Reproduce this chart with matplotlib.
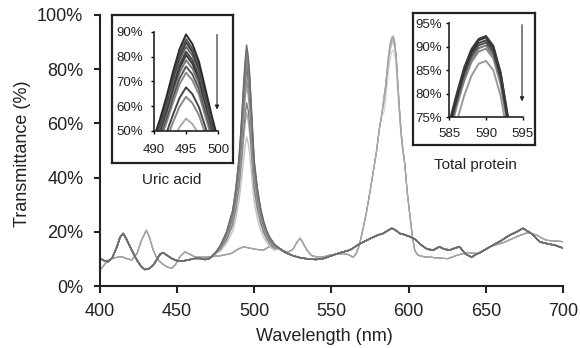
import numpy as np
import matplotlib
matplotlib.use("Agg")
import matplotlib.pyplot as plt
from matplotlib.colors import to_rgb

plt.rcParams['font.family'] = ['Liberation Sans', 'DejaVu Sans']

# ---------------- uric acid spectra (12 concentrations) ----------------
uric_left_wl = [400, 403, 405.4, 408, 411, 413, 415, 417, 420.5, 424, 427, 429, 432, 434.5,
                437, 439, 441, 443, 446.4, 450, 453, 457, 461.5, 465, 468, 471, 474.5]
uric_left_t = [10.2, 9.3, 9.0, 10.5, 14.5, 18.0, 19.4, 17.5, 13.3, 9.5, 7.0, 6.1, 6.5, 7.7,
               10.0, 11.8, 12.3, 11.5, 10.2, 9.3, 9.2, 9.6, 10.2, 10.2, 9.8, 10.2, 12.0]

uric_peak_wl = [478, 482, 486, 488, 490, 491, 492, 493, 494, 495, 496, 497, 498, 499, 500,
                502, 504, 506, 508, 510, 513]
uric_peaks = [
    [15.0, 20.0, 28.0, 36.0, 47.0, 55.0, 64.0, 74.0, 83.0, 88.9, 85.0, 78.0, 67.0, 56.0, 46.0, 36.0, 29.0, 24.0, 20.5, 18.0, 15.5],
    [14.9, 19.8, 27.6, 35.4, 46.1, 53.9, 62.7, 72.5, 81.2, 87.0, 83.2, 76.4, 65.6, 54.9, 45.1, 35.4, 28.5, 23.7, 20.2, 17.8, 15.4],
    [14.8, 19.6, 27.3, 34.9, 45.5, 53.2, 61.8, 71.4, 80.0, 85.7, 81.9, 75.2, 64.7, 54.1, 44.5, 34.9, 28.2, 23.4, 20.1, 17.7, 15.3],
    [14.7, 19.4, 26.9, 34.4, 44.7, 52.2, 60.7, 70.0, 78.5, 84.0, 80.4, 73.8, 63.5, 53.1, 43.8, 34.4, 27.8, 23.1, 19.8, 17.5, 15.2],
    [14.6, 19.1, 26.4, 33.7, 43.8, 51.1, 59.3, 68.4, 76.6, 82.0, 78.5, 72.1, 62.0, 52.0, 42.9, 33.7, 27.3, 22.8, 19.6, 17.3, 15.0],
    [14.5, 19.0, 26.1, 33.3, 43.1, 50.3, 58.3, 67.3, 75.3, 80.6, 77.1, 70.9, 61.0, 51.2, 42.2, 33.3, 27.0, 22.5, 19.4, 17.2, 14.9],
    [14.3, 18.7, 25.6, 32.6, 42.2, 49.1, 56.9, 65.6, 73.4, 78.6, 75.2, 69.1, 59.5, 50.0, 41.3, 32.6, 26.5, 22.2, 19.1, 17.0, 14.8],
    [14.2, 18.4, 25.1, 31.8, 41.0, 47.7, 55.2, 63.6, 71.1, 76.0, 72.8, 66.9, 57.7, 48.5, 40.1, 31.8, 25.9, 21.7, 18.8, 16.7, 14.6],
    [14.0, 18.1, 24.5, 30.9, 39.8, 46.2, 53.5, 61.5, 68.8, 73.5, 70.4, 64.7, 55.9, 47.0, 39.0, 30.9, 25.3, 21.3, 18.5, 16.4, 14.4],
    [13.7, 17.3, 23.1, 29.0, 37.0, 42.9, 49.4, 56.7, 63.3, 67.6, 64.8, 59.6, 51.6, 43.6, 36.3, 29.0, 23.9, 20.2, 17.7, 15.8, 14.0],
    [13.4, 16.8, 22.3, 27.7, 35.2, 40.7, 46.8, 53.6, 59.8, 63.8, 61.2, 56.4, 48.9, 41.4, 34.6, 27.7, 23.0, 19.5, 17.2, 15.5, 13.8],
    [12.9, 15.7, 20.3, 24.8, 31.1, 35.7, 40.8, 46.5, 51.6, 55.0, 52.8, 48.8, 42.5, 36.2, 30.5, 24.8, 20.8, 18.0, 16.0, 14.6, 13.1],
]
uric_colors = ['#2b2b2b', '#555555', '#3a3a3a', '#666666', '#444444', '#333333',
               '#777777', '#555555', '#8a8a8a', '#444444', '#888888', '#aaaaaa']

uric_right_wl = [516, 520, 525, 530, 535, 540, 545, 549, 555, 562, 568, 575, 580, 583.4, 586,
                 589, 591, 594.3, 597, 600.8, 604.3, 608, 612, 616, 620, 623, 626.7, 630, 633,
                 636.5, 640.8, 643, 646, 650, 654.7, 660, 665.5, 670, 674, 679.5, 682, 685,
                 690, 694.7, 700]
uric_right_t = [14.0, 12.4, 11.2, 10.4, 10.0, 9.8, 10.2, 11.0, 12.2, 13.3, 15.5, 17.5, 18.8,
                19.4, 20.3, 21.3, 20.8, 19.4, 19.0, 18.2, 17.2, 15.2, 13.6, 13.3, 14.5, 13.6,
                13.3, 14.0, 14.5, 12.0, 10.6, 11.5, 12.3, 13.6, 15.1, 16.8, 18.8, 20.0, 21.3,
                19.4, 18.0, 16.3, 15.6, 15.1, 14.0]

# ---------------- total protein spectra (7 concentrations) ----------------
prot_left_wl = [400, 403, 405.4, 410, 414, 417, 420.5, 424, 427, 430, 432, 434.5, 437, 440,
                443, 446.4, 449, 452, 455, 458, 461.5, 466, 472, 478, 485, 489, 493, 497,
                501.5, 506, 510, 514, 518, 522, 525, 528, 529.5, 531, 534, 537, 540, 545,
                549, 554, 558, 561, 564, 566, 568, 570, 572.5, 575, 577, 579, 581, 582.5]
prot_left_t = [5.9, 8.0, 9.6, 10.5, 10.8, 10.2, 9.6, 12.0, 17.0, 20.6, 18.0, 13.3, 10.0, 8.4,
               7.2, 6.5, 8.0, 11.0, 12.6, 11.8, 10.8, 10.6, 10.8, 11.2, 12.0, 13.5, 14.5, 14.0,
               13.5, 13.3, 14.6, 14.2, 13.0, 12.6, 13.5, 16.5, 17.6, 16.5, 13.3, 11.3, 10.8,
               10.8, 11.4, 11.8, 12.0, 11.6, 10.6, 12.0, 15.0, 20.0, 26.8, 35.0, 42.0, 49.0,
               58.0, 63.0]

prot_peak_wl = [584, 585, 586, 587, 588, 589, 590, 591, 592, 593, 594, 595, 596]
prot_peaks = [
    [70.0, 74.0, 80.0, 85.5, 89.5, 91.7, 92.3, 90.2, 84.5, 75.0, 66.0, 58.0, 52.0],
    [69.5, 73.5, 79.5, 85.0, 89.0, 91.4, 92.0, 89.9, 84.2, 74.7, 65.8, 57.8, 51.8],
    [69.0, 73.0, 79.0, 84.5, 88.5, 90.8, 91.4, 89.3, 83.6, 74.2, 65.4, 57.5, 51.6],
    [68.5, 72.5, 78.5, 84.0, 88.0, 90.3, 90.9, 88.8, 83.1, 73.8, 65.0, 57.2, 51.4],
    [68.0, 72.0, 78.0, 83.3, 87.4, 89.7, 90.3, 88.2, 82.6, 73.3, 64.6, 57.0, 51.2],
    [67.5, 71.3, 77.3, 82.6, 86.7, 89.0, 89.6, 87.5, 81.9, 72.7, 64.1, 56.6, 51.0],
    [64.0, 68.0, 74.0, 79.5, 83.8, 86.4, 87.0, 85.0, 79.5, 70.5, 62.2, 55.2, 50.0],
]
prot_colors = ['#3a3a3a', '#2b2b2b', '#444444', '#555555', '#777777', '#888888', '#999999']

prot_right_wl = [597.5, 599, 601, 602.5, 604, 606, 610, 614.7, 620, 625.5, 631.5, 638, 642,
                 645.6, 649, 652.6, 657, 661.3, 666, 670, 676.4, 679, 682.9, 686, 689.3,
                 694.7, 700]
prot_right_t = [45.0, 35.0, 25.0, 18.0, 13.0, 11.4, 10.8, 10.6, 10.3, 10.1, 11.4, 12.4, 12.1,
                12.0, 13.2, 14.5, 15.3, 16.0, 17.2, 18.2, 19.6, 19.5, 18.8, 17.8, 16.9,
                16.6, 16.4]

x_ticks = [400, 450, 500, 550, 600, 650, 700]
y_ticks = [0, 20, 40, 60, 80, 100]


def pct(vals):
    return ['%d%%' % v for v in vals]


def join(lw, lt, pw, pt, rw, rt):
    return np.array(lw + pw + rw), np.array(lt + pt + rt)


def lighter(c, k):
    return tuple(np.array(to_rgb(c)) * (1 - k) + k)


uric = [join(uric_left_wl, uric_left_t, uric_peak_wl, p, uric_right_wl, uric_right_t)
        for p in uric_peaks]
prot = [join(prot_left_wl, prot_left_t, prot_peak_wl, p, prot_right_wl, prot_right_t)
        for p in prot_peaks]

fig = plt.figure(figsize=(5.8, 3.48), dpi=100)
ax = fig.add_axes([0.1724, 0.178, 0.7983, 0.779])

for (x, y), c in zip(prot[::-1], prot_colors[::-1]):
    ax.plot(x, y, color=lighter(c, 0.55), lw=0.8)
for (x, y), c in zip(uric[::-1], uric_colors[::-1]):
    ax.plot(x, y, color=lighter(c, 0.3), lw=1.0)

ax.set_xlim(400, 700)
ax.set_ylim(0, 100)
ax.set_xticks(x_ticks)
ax.set_yticks(y_ticks)
ax.set_yticklabels(pct(y_ticks))
for s in ['top', 'right']:
    ax.spines[s].set_visible(False)
for s in ['left', 'bottom']:
    ax.spines[s].set_linewidth(1.5)
    ax.spines[s].set_color('#222222')
ax.tick_params(axis='x', direction='out', length=5, width=1.5, color='#222222',
               labelsize=13, pad=7, labelcolor='#222222')
ax.tick_params(axis='y', direction='out', length=4, width=1.5, color='#222222',
               labelsize=13, pad=8, labelcolor='#222222')
fig.text(0.56, 0.032, 'Wavelength (nm)', ha='center', va='center', fontsize=13, color='#222222')
fig.text(0.038, 0.5575, 'Transmittance (%)', ha='center', va='center', rotation=90,
         fontsize=13, color='#222222')


def frame(rect):
    b = fig.add_axes(rect)
    b.set_xticks([])
    b.set_yticks([])
    for s in b.spines.values():
        s.set_linewidth(1.6)
        s.set_color('#222222')
    return b


def inset(rect, curves, colors, xl, yl, xt, yt, xpad, ypad):
    a = fig.add_axes(rect)
    for (x, y), c in zip(curves[::-1], colors[::-1]):
        a.plot(x, y, color=c, lw=1.4)
    a.set_xlim(*xl)
    a.set_ylim(*yl)
    a.set_xticks(xt)
    a.set_yticks(yt)
    a.set_yticklabels(pct(yt))
    a.patch.set_alpha(0)
    for s in ['top', 'right']:
        a.spines[s].set_visible(False)
    for s in ['left', 'bottom']:
        a.spines[s].set_linewidth(1.2)
        a.spines[s].set_color('#222222')
    a.tick_params(direction='out', length=2.5, width=1, labelsize=9.5,
                  labelcolor='#222222')
    a.tick_params(axis='x', pad=xpad)
    a.tick_params(axis='y', pad=ypad)
    return a


frame([0.1931, 0.5316, 0.2086, 0.4253])
a1 = inset([0.265, 0.6236, 0.1114, 0.2853], uric, uric_colors, (490, 500), (50, 90),
           [490, 495, 500], [50, 60, 70, 80, 90], 7, 5)
a1.annotate('', xy=(499.8, 57.5), xytext=(499.8, 90), annotation_clip=False,
            arrowprops=dict(arrowstyle='-|>', color='#222222', lw=0.8, mutation_scale=6))

frame([0.7121, 0.5833, 0.2103, 0.3802])
a2 = inset([0.7747, 0.6629, 0.1266, 0.2701], prot, prot_colors, (585, 595), (75, 95),
           [585, 590, 595], [75, 80, 85, 90, 95], 5, 2.5)
a2.annotate('', xy=(594.9, 77.8), xytext=(594.9, 95.3), annotation_clip=False,
            arrowprops=dict(arrowstyle='-|>', color='#222222', lw=0.8, mutation_scale=6))

fig.text(0.2966, 0.4828, 'Uric acid', ha='center', va='center', fontsize=11, color='#222222')
fig.text(0.819, 0.526, 'Total protein', ha='center', va='center', fontsize=11, color='#222222')

fig.savefig('out.png', dpi=100)
